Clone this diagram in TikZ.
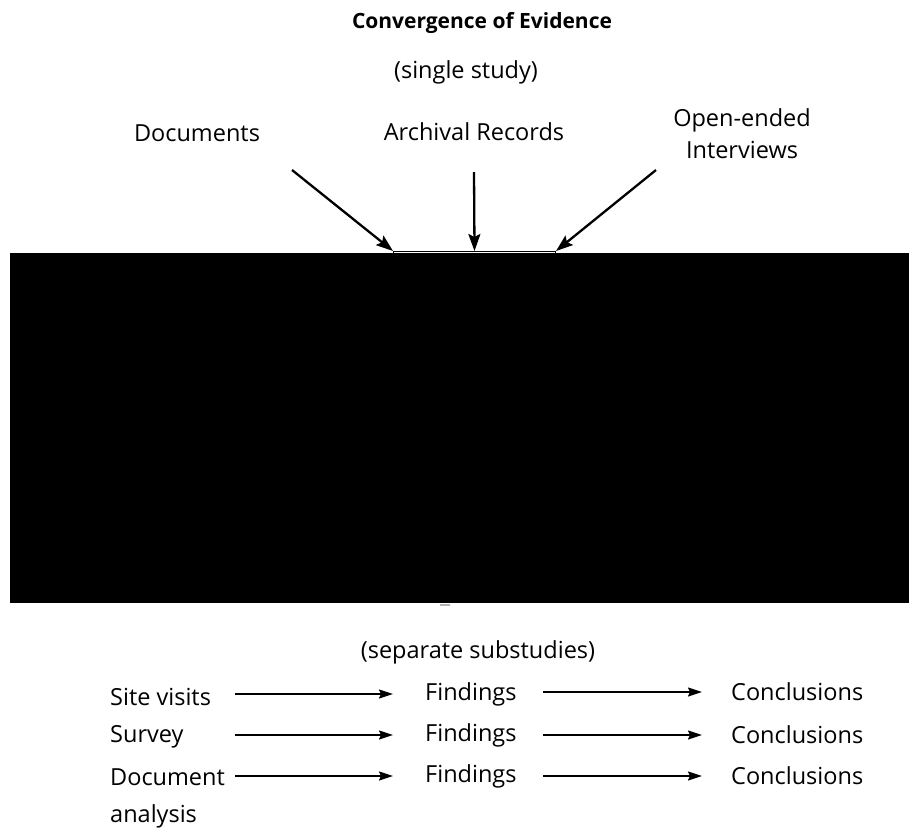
\documentclass[tikz,border=0pt]{standalone}
\usepackage{fontspec}
\setmainfont{Open Sans}
\usetikzlibrary{arrows.meta}
\begin{document}
\begin{tikzpicture}[x=1pt,y=-1pt,
  lbl/.style={inner sep=0pt, font=\fontsize{23.5}{32}\selectfont},
  ttl/.style={inner sep=0pt, font=\fontsize{21}{25}\selectfont\bfseries},
  inflow/.style={line width=2.3pt, -{Stealth[length=17pt,width=12pt,inset=3pt]}},
  flow/.style={line width=1.7pt, -{Stealth[length=14pt,width=9pt,inset=2pt]}},
  cover/.style={fill=black, draw=none}]
\useasboundingbox[fill=white] (0,0) rectangle (909,836);

% heading
\node[ttl] (title) at (482,23) {Convergence of Evidence};
\node[lbl] (single) at (466,72) {(single study)};

% sources converging on the central box
\node[lbl] (docs) at (197,133) {Documents};
\node[lbl] (arch) at (474,132) {Archival Records};
\node[lbl, align=center] (intv) at (742,134) {Open-ended\\Interviews};
\node[draw, line width=1pt, minimum width=162pt, minimum height=60pt, anchor=north west, inner sep=0pt] (core) at (393,251) {};

\coordinate (docsTail) at (292,170);
\coordinate (archTail) at (474,172);
\coordinate (intvTail) at (656,170);
\draw[inflow] (docsTail) -- (core.north west);
\draw[inflow] (archTail) -- (core.north);
\draw[inflow] (intvTail) -- (core.north east);

% covered area
\fill[cover] (10,253) rectangle (909,603);
\draw[gray!60, line width=1.5pt] (440,605) -- (450,605);

% separate substudies
\node[lbl] (separate) at (478,652) {(separate substudies)};

\coordinate (colA) at (235,0);
\coordinate (colB) at (543,0);

\node[lbl, anchor=west] (site) at (110,697) {Site visits};
\node[lbl, anchor=west] (survey) at (110,737) {Survey};
\node[lbl, anchor=west] (docan) at (110,777) {Document};
\node[lbl, anchor=west] (docan2) at (110,816) {analysis};

\node[lbl, anchor=west] (f1) at (425,694) {Findings};
\node[lbl, anchor=west] (f2) at (425,735) {Findings};
\node[lbl, anchor=west] (f3) at (425,776) {Findings};

\node[lbl, anchor=west] (c1) at (731,692) {Conclusions};
\node[lbl, anchor=west] (c2) at (731,735) {Conclusions};
\node[lbl, anchor=west] (c3) at (731,776) {Conclusions};

\draw[flow, shorten >=32pt] (f1.west -| colA) -- (f1.west);
\draw[flow, shorten >=32pt] (f2.west -| colA) -- (f2.west);
\draw[flow, shorten >=32pt] (f3.west -| colA) -- (f3.west);

\draw[flow, shorten >=29pt] (c1.west -| colB) -- (c1.west);
\draw[flow, shorten >=29pt] (c2.west -| colB) -- (c2.west);
\draw[flow, shorten >=29pt] (c3.west -| colB) -- (c3.west);
\end{tikzpicture}
\end{document}
